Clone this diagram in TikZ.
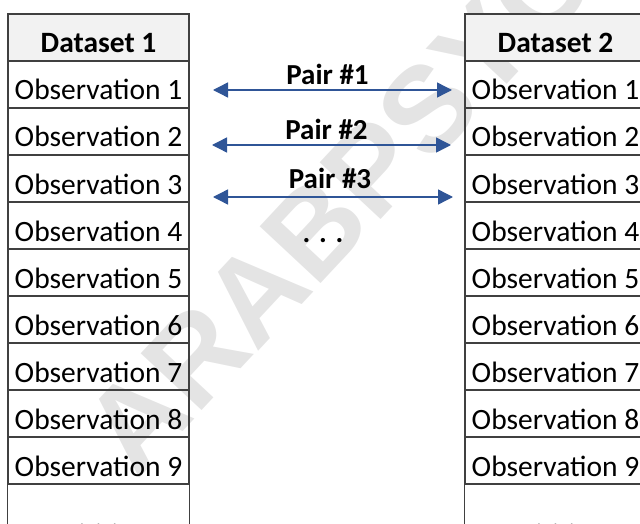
\documentclass[tikz,border=0pt]{standalone}
\usepackage{fontspec}
\setmainfont{Carlito}
\newfontfamily\markfont{Liberation Sans}
\usetikzlibrary{arrows.meta}
\definecolor{pairblue}{RGB}{47,85,151}
\definecolor{gridgray}{RGB}{64,64,64}
\definecolor{headgray}{RGB}{242,242,242}
\definecolor{markgray}{RGB}{228,228,228}
\begin{document}
\begin{tikzpicture}[x=1pt, y=-1pt,
        cell/.style={draw=gridgray, line width=1.2pt, minimum width=181pt, minimum height=47pt,
            inner sep=0pt, text height=31pt, text depth=0pt, font=\fontsize{29.5}{30}\selectfont},
        headcell/.style={cell, fill=headgray, font=\fontsize{29.5}{30}\selectfont\bfseries},
        pairarrow/.style={draw=pairblue, line width=1.4pt, {Triangle[length=15pt,width=15pt]}-{Triangle[length=15pt,width=15pt]}},
        pairlbl/.style={font=\fontsize{29}{30}\selectfont\bfseries, inner sep=0pt, anchor=base}]
    \useasboundingbox (0, 0) rectangle (640, 524);
    % watermark
    \node[rotate=47, anchor=base west, text=markgray, inner sep=0pt,
        font=\fontsize{121}{125}\selectfont\markfont\bfseries] (mark) at (137, 481) {ARABPSYCHOLOGY};
    % left table
    \node[headcell] (L0) at (98.5, 37.5) {Dataset 1};
    \foreach \i in {1,...,9} {
        \node[cell] (L\i) at (98.5, 37.5 + 47*\i) {Observation \i};
    }
    \draw[gridgray, line width=1.2pt] (L9.south west) -- ++(0, 40);
    \draw[gridgray, line width=1.2pt] (L9.south east) -- ++(0, 40);
    \node[font=\fontsize{29.5}{30}\selectfont, anchor=base] (Ldots) at (98.5, 527) {. . .};
    % right table
    \node[headcell] (R0) at (555.5, 37.5) {Dataset 2};
    \foreach \i in {1,...,9} {
        \node[cell] (R\i) at (555.5, 37.5 + 47*\i) {Observation \i};
    }
    \draw[gridgray, line width=1.2pt] (R9.south west) -- ++(0, 40);
    \node[font=\fontsize{29.5}{30}\selectfont, anchor=base] (Rdots) at (555.5, 527) {. . .};
    % pairs
    \coordinate (p1l) at (213, 90);
    \coordinate (p1r) at (452, 90);
    \coordinate (p2l) at (212, 145);
    \coordinate (p2r) at (451, 145);
    \coordinate (p3l) at (213, 197);
    \coordinate (p3r) at (453, 197);
    \draw[pairarrow] (p1l) -- node[pairlbl, xshift=-5pt, yshift=5pt] (pair1) {Pair \#1} (p1r);
    \draw[pairarrow] (p2l) -- node[pairlbl, xshift=-5pt, yshift=5pt] (pair2) {Pair \#2} (p2r);
    \draw[pairarrow] (p3l) -- node[pairlbl, xshift=-3pt, yshift=9pt] (pair3) {Pair \#3} (p3r);
    \node[pairlbl] (middots) at (323, 242) {. . .};
\end{tikzpicture}
\end{document}
